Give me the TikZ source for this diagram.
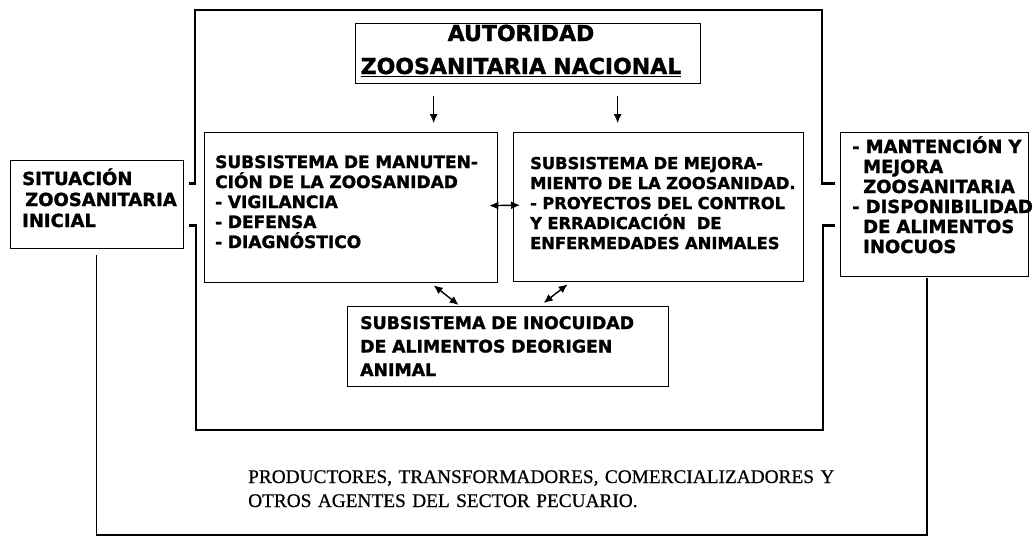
\documentclass[tikz,border=0pt]{standalone}
\usepackage{fontspec}
\setmainfont{Liberation Serif}
\newfontfamily\bsans{DejaVu Sans}[BoldFeatures={FakeBold=1.5}]
\newfontfamily\heavyserif{Liberation Serif}[FakeBold=0.6]
\usetikzlibrary{arrows.meta}
\begin{document}
\begin{tikzpicture}[x=1pt,y=-1pt,
  box/.style={draw, line width=1.3pt, inner sep=0pt, anchor=north west},
  txt/.style={inner sep=0pt, anchor=base west, align=left, text width=400pt,
    font=\bsans\bfseries\fontsize{17}{20}\selectfont},
  frame/.style={line width=2.6pt, line join=miter},
  outer/.style={line width=1.5pt},
  arr/.style={line width=1pt, -{Latex[length=9pt,width=8pt]}},
  dbl/.style={line width=1.4pt, {Latex[length=9pt,width=8pt]}-{Latex[length=9pt,width=8pt]}}]
\useasboundingbox[fill=white] (0,0) rectangle (1034,538);
% boxes
\node[box, minimum width=345pt, minimum height=60pt] (hdr) at (355,23) {};
\node[box, minimum width=293pt, minimum height=150pt] (lb) at (204,132) {};
\node[box, minimum width=290pt, minimum height=149pt] (rb) at (513,132) {};
\node[box, minimum width=321pt, minimum height=80pt] (ib) at (347,306) {};
\node[box, minimum width=173pt, minimum height=88pt] (sit) at (10,160) {};
\node[box, minimum width=188pt, minimum height=144pt] (res) at (840,132) {};
% texts
\node[inner sep=0pt, anchor=base, align=center, text width=340pt,
  font=\bsans\bfseries\fontsize{22}{33}\selectfont] (hdrt) at (521,41)
  {AUTORIDAD\\\underline{ZOOSANITARIA NACIONAL}};
\node[txt] (lbt) at (215,168) {SUBSISTEMA DE MANUTEN-\\CIÓN DE LA ZOOSANIDAD\\- VIGILANCIA\\- DEFENSA\\- DIAGNÓSTICO};
\node[txt, font=\bsans\bfseries\fontsize{16.3}{20}\selectfont] (rbt) at (530,169) {SUBSISTEMA DE MEJORA-\\MIENTO DE LA ZOOSANIDAD.\\- PROYECTOS DEL CONTROL\\Y ERRADICACIÓN\ \ DE\\ENFERMEDADES ANIMALES};
\node[txt, font=\bsans\bfseries\fontsize{17.3}{23.5}\selectfont] (ibt) at (360,329) {SUBSISTEMA DE INOCUIDAD\\DE ALIMENTOS DEORIGEN\\ANIMAL};
\node[txt, font=\bsans\bfseries\fontsize{18}{21}\selectfont] (sitt) at (22,185) {SITUACIÓN\\\hspace*{3pt}ZOOSANITARIA\\INICIAL};
\node[txt, font=\bsans\bfseries\fontsize{18}{20}\selectfont] (rest) at (852,153) {- MANTENCIÓN Y\\\hspace*{11pt}MEJORA\\\hspace*{11pt}ZOOSANITARIA\\- DISPONIBILIDAD\\\hspace*{11pt}DE ALIMENTOS\\\hspace*{11pt}INOCUOS};
\node[inner sep=0pt, anchor=base west, align=left, text width=700pt,
  font=\heavyserif\fontsize{19.3}{24}\selectfont] (prod) at (248,483)
  {PRODUCTORES, TRANSFORMADORES, COMERCIALIZADORES Y\\OTROS AGENTES DEL SECTOR PECUARIO.};
% arrows
\draw[arr] ([xshift=-94.5pt,yshift=-12pt]hdr.south) -- ([xshift=82.5pt,yshift=9pt]lb.north);
\draw[arr] ([xshift=89.5pt,yshift=-12pt]hdr.south) -- ([xshift=-41pt,yshift=9pt]rb.north);
\draw[dbl] ([xshift=-9pt,yshift=2pt]lb.east) -- ([xshift=7pt,yshift=2pt]rb.west);
\draw[dbl] ([xshift=82.5pt,yshift=-2pt]lb.south) -- ([xshift=-49.5pt,yshift=1pt]ib.north);
\draw[dbl] ([xshift=-91pt,yshift=-2pt]rb.south) -- ([xshift=35.5pt,yshift=3pt]ib.north);
% thick frame
\coordinate (ftl) at (195,10);
\coordinate (ftr) at (822,10);
\coordinate (fbl) at (196,430);
\coordinate (fbr) at (823,430);
\draw[frame] ([xshift=5pt,yshift=21pt]sit.east) -| (ftl) -- (ftr) |- ([xshift=-5pt,yshift=21pt]res.west);
\draw[frame] ([xshift=5pt,yshift=-21pt]sit.east) -| (fbl) -- (fbr) |- ([xshift=-5pt,yshift=-21pt]res.west);
% outer frame
\coordinate (obl) at (96,535);
\coordinate (obr) at (927,535);
\draw[outer] ([xshift=-0.5pt,yshift=-6pt]sit.south) -- ([xshift=-0.5pt]sit.south |- obl) -- (obr) -- ([yshift=-1pt]res.south -| obr);
\end{tikzpicture}
\end{document}
